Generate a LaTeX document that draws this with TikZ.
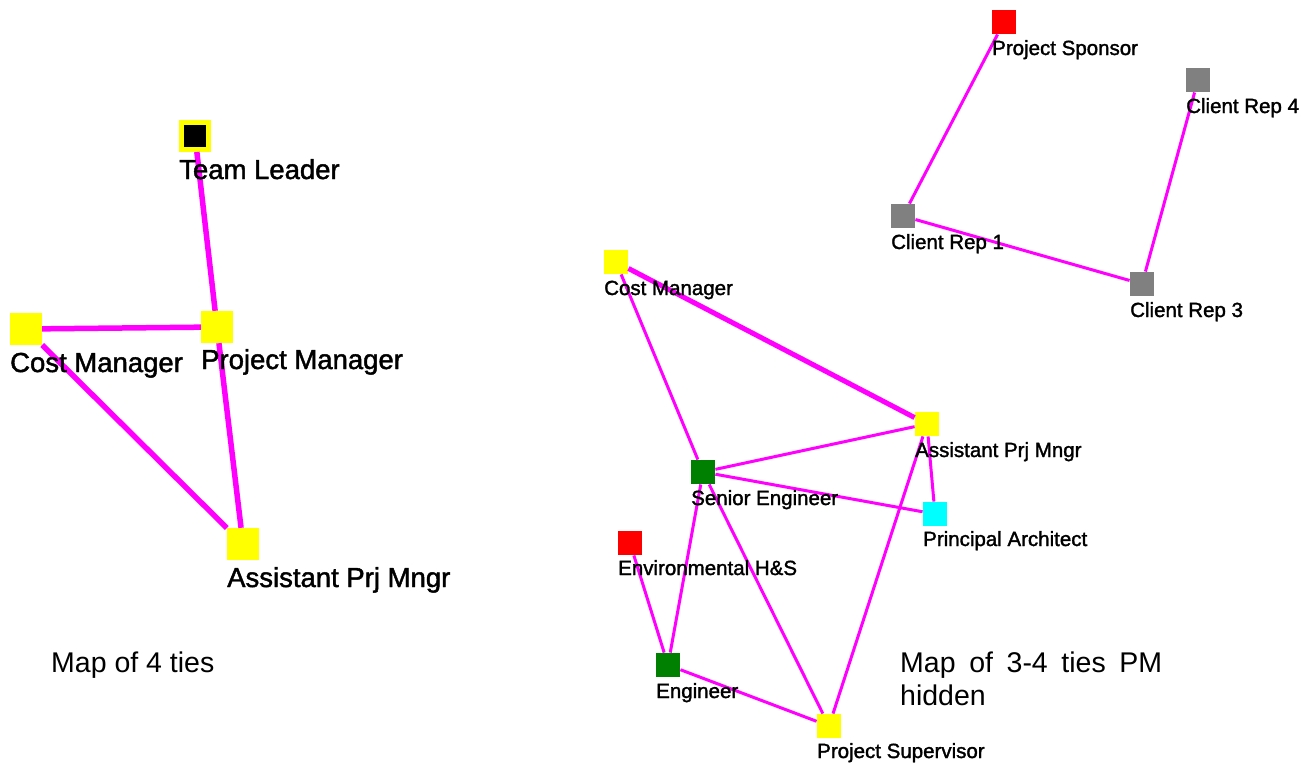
\documentclass[tikz,border=0pt]{standalone}
\usepackage{fontspec}
\setmainfont{Liberation Sans}
\newfontfamily\lblfont{Liberation Sans}[FakeBold=1.6]
\definecolor{tie}{HTML}{FF00FF}
\definecolor{ylw}{HTML}{FFFF00}
\definecolor{grn}{HTML}{008000}
\definecolor{cyn}{HTML}{00FFFF}
\definecolor{rd}{HTML}{FF0000}
\definecolor{gry}{HTML}{808080}
\tikzset{
  sqbig/.style={rectangle, inner sep=0pt, minimum size=32pt, fill=#1},
  sqsmall/.style={rectangle, inner sep=0pt, minimum size=24.5pt, fill=#1},
  lblbig/.style={anchor=base west, inner sep=0pt, font=\lblfont\fontsize{27.5}{33}\selectfont},
  lblsmall/.style={anchor=base west, inner sep=0pt, font=\lblfont\fontsize{20.5}{25}\selectfont},
  capt/.style={anchor=base west, inner sep=0pt, font=\fontsize{28.5}{33}\selectfont},
  tiebig/.style={draw=tie, line width=5.5pt},
  tiethin/.style={draw=tie, line width=3pt},
  tiemid/.style={draw=tie, line width=5pt},
}
\begin{document}
\begin{tikzpicture}[x=1pt, y=-1pt]
\useasboundingbox (0,0) rectangle (1308,766);

% ---- left map: 4 ties ----
\node[rectangle, inner sep=0pt, minimum size=27pt, fill=black, draw=ylw, line width=5pt] (tl) at (195,136) {};
\node[sqbig=ylw] (cmL) at (26,329) {};
\node[sqbig=ylw] (pmL) at (217,327) {};
\node[sqbig=ylw] (apL) at (243,544) {};

\draw[tiebig] (tl) -- (pmL);
\draw[tiebig] (cmL) -- (pmL);
\draw[tiebig] (cmL) -- (apL);
\draw[tiebig] (pmL) -- (apL);

\node[lblbig] (tlT) at (179,179) {Team Leader};
\node[lblbig] (cmLT) at (10,372) {Cost Manager};
\node[lblbig] (pmLT) at (201,369) {Project Manager};
\node[lblbig] (apLT) at (227,587) {Assistant Prj Mngr};

\node[capt] (cap1) at (51,672) {Map of 4 ties};

% ---- right map: 3-4 ties, PM hidden ----
\node[sqsmall=rd]  (ps)  at (1004,22) {};
\node[sqsmall=gry] (cr4) at (1198,80) {};
\node[sqsmall=gry] (cr1) at (903,216) {};
\node[sqsmall=gry] (cr3) at (1142,284) {};
\node[sqsmall=ylw] (cmR) at (616,262) {};
\node[sqsmall=ylw] (apR) at (927,424) {};
\node[sqsmall=grn] (se)  at (703,472) {};
\node[sqsmall=cyn] (pa)  at (935,514) {};
\node[sqsmall=rd]  (env) at (630,543) {};
\node[sqsmall=grn] (eng) at (668,665) {};
\node[sqsmall=ylw] (sup) at (829,726) {};

\draw[tiethin] (ps) -- (cr1);
\draw[tiethin] (cr1) -- (cr3);
\draw[tiethin] (cr3) -- (cr4);
\draw[tiemid]  (cmR) -- (apR);
\draw[tiethin] (cmR) -- (se);
\draw[tiethin] (se) -- (apR);
\draw[tiethin] (se) -- (pa);
\draw[tiethin] (apR) -- (pa);
\draw[tiethin] (apR) -- (sup);
\draw[tiethin] (se) -- (sup);
\draw[tiethin] (se) -- (eng);
\draw[tiethin] (env) -- (eng);
\draw[tiethin] (eng) -- (sup);

\node[lblsmall] (psT)  at (992,55)  {Project Sponsor};
\node[lblsmall] (cr4T) at (1186,113) {Client Rep 4};
\node[lblsmall] (cr1T) at (891,249) {Client Rep 1};
\node[lblsmall] (cr3T) at (1130,317) {Client Rep 3};
\node[lblsmall] (cmRT) at (604,295) {Cost Manager};
\node[lblsmall] (apRT) at (915,457) {Assistant Prj Mngr};
\node[lblsmall] (seT)  at (691,505) {Senior Engineer};
\node[lblsmall] (paT)  at (923,546) {Principal Architect};
\node[lblsmall] (envT) at (618,575) {Environmental H\&S};
\node[lblsmall] (engT) at (656,698) {Engineer};
\node[lblsmall] (supT) at (817,758) {Project Supervisor};

\node[capt] (cap2a) at (900,672) {\makebox[262pt][s]{Map of 3-4 ties PM}};
\node[capt] (cap2b) at (900,705) {hidden};
\end{tikzpicture}
\end{document}
